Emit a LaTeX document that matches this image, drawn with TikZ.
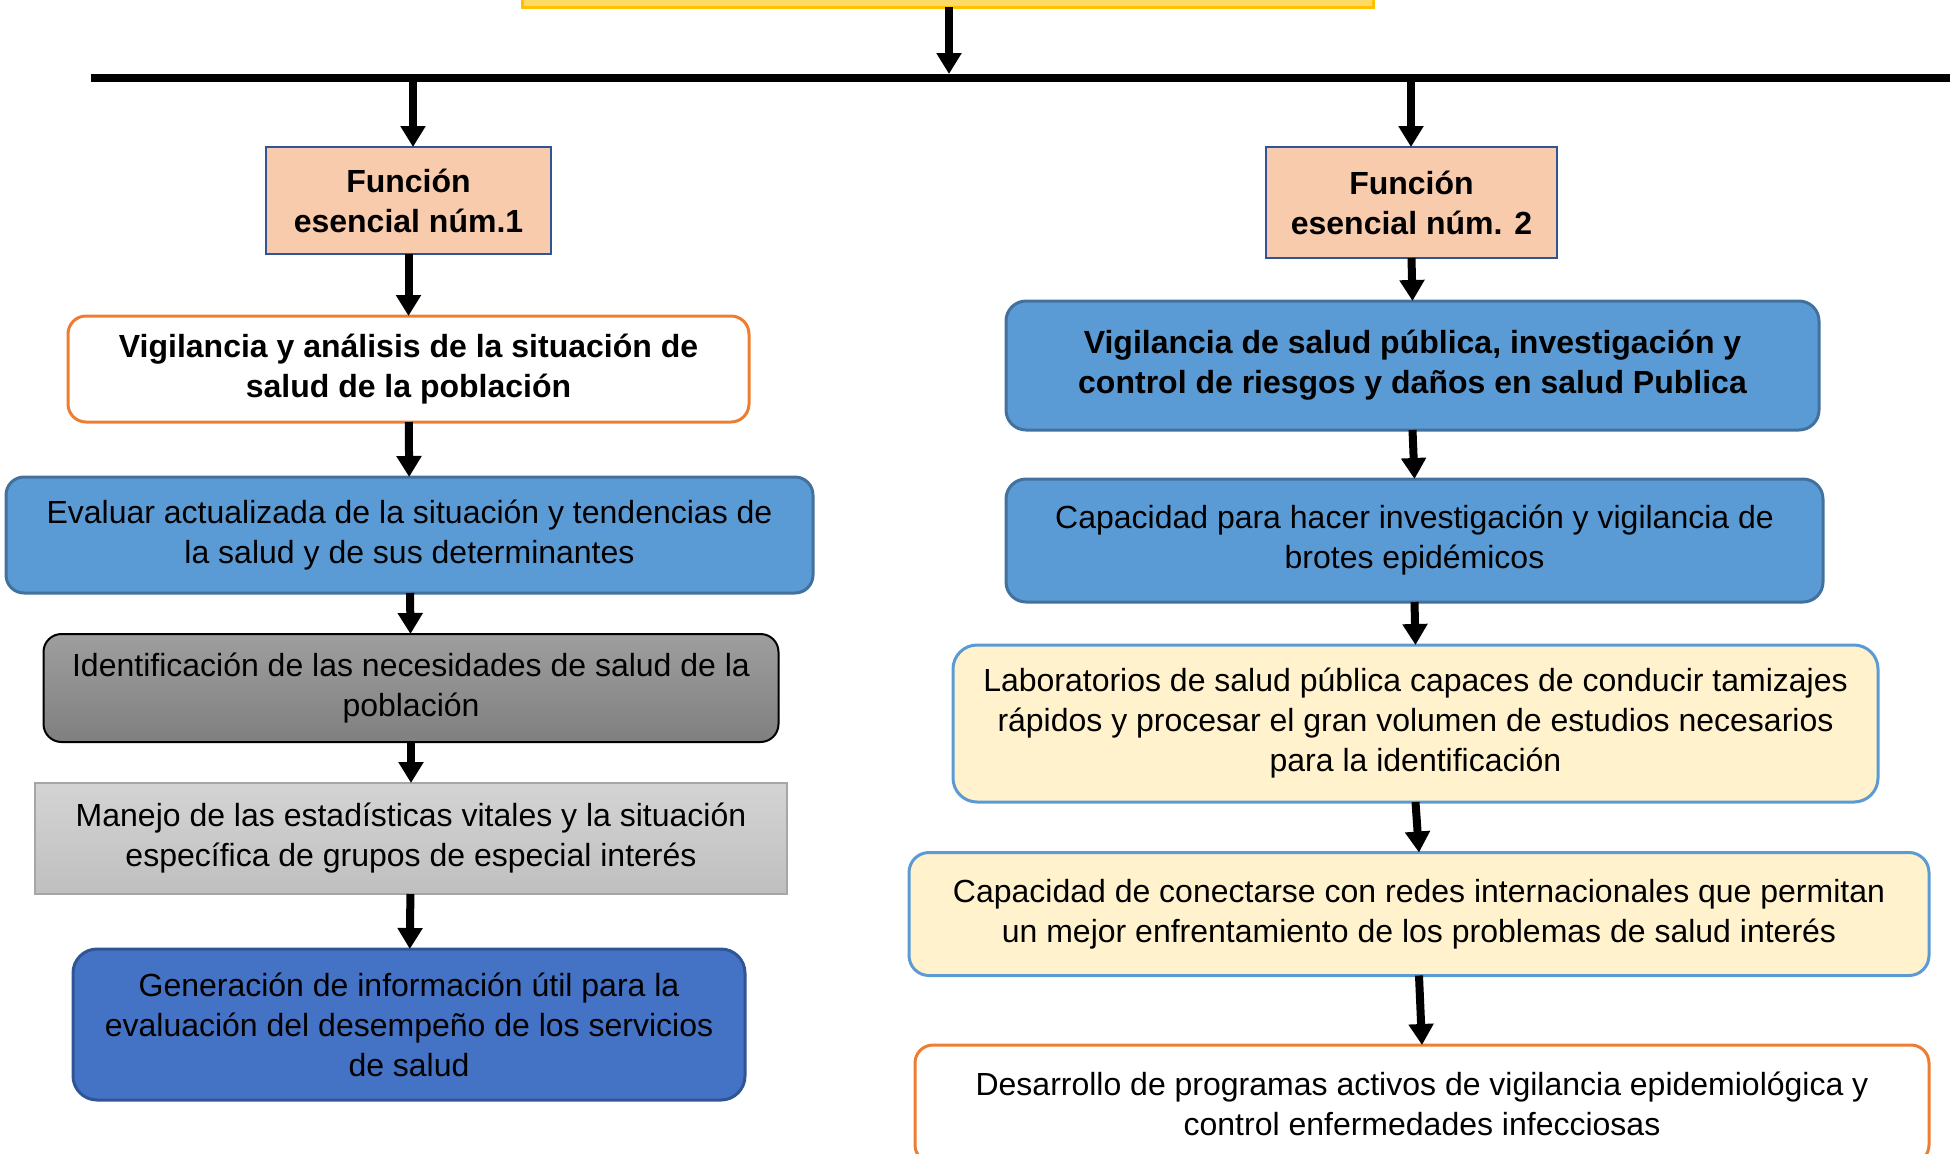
\documentclass[tikz,border=0pt]{standalone}
\usepackage{fontspec}
\setmainfont{Liberation Sans}
\usepackage{tikz}
\usetikzlibrary{arrows.meta}
\definecolor{peach}{HTML}{F8CBAD}
\definecolor{navy}{HTML}{2F5597}
\definecolor{skyblue}{HTML}{5B9BD5}
\definecolor{skyline}{HTML}{41719C}
\definecolor{royal}{HTML}{4472C4}
\definecolor{orangeline}{HTML}{ED7D31}
\definecolor{cream}{HTML}{FFF2CC}
\definecolor{gold}{HTML}{FFD966}
\definecolor{goldline}{HTML}{FFC000}
\tikzset{
boxnode/.style = {rectangle, rounded corners=#1, inner sep=2pt, outer sep=0pt, align=center,
  font=\fontsize{16}{20}\selectfont},
%boxnode/.style = {}
boxnode/.default = 9pt % corner radius of the box
}
\tikzset{bftext/.style={font=\fontsize{16}{20}\selectfont\bfseries}}
\tikzset{pc/.style={fill=peach, draw=navy, line width=1pt}}
\tikzset{wt/.style={fill=white, draw=orangeline, line width=1.5pt}}
\tikzset{bu/.style={fill=skyblue, draw=skyline, line width=1.5pt}}
\tikzset{dg/.style={top color=black!38, bottom color=black!50, draw=black, line width=1pt}}
\tikzset{lg/.style={top color=black!17, bottom color=black!25, draw=black!35, line width=1pt}}
\tikzset{nv/.style={fill=royal, draw=navy, line width=1.5pt}}
\tikzset{yl/.style={fill=cream, draw=skyblue, line width=1.5pt}}
\tikzset{arr/.style={-{Triangle[length=10.5pt,width=12pt]}, line width=4pt}}

\begin{document}
\begin{tikzpicture}[x=0.5pt, y=-0.5pt]
      \useasboundingbox (0,0) rectangle (1950,1153);
      % top box and bus
      \node [boxnode=0pt, fill=gold, draw=goldline, line width=1.5pt,
             minimum width=425.5pt, minimum height=50pt] (top) at (947.5,-43) {};
      \coordinate (bus0) at (91,78);
      \coordinate (bus1) at (1960,78);
      \coordinate (b0) at (949,78);
      \coordinate (b1) at (413,78);
      \coordinate (b2) at (1411,78);
      \draw [line width=4pt] (bus0) -- (bus1);
      % left column
      \node [boxnode=0pt, pc, bftext, minimum width=142.5pt, minimum height=53.5pt]
            (f1) at (408.5,200.5) {Función\\esencial núm.1};
      \node [boxnode, wt, bftext, minimum width=340.5pt, minimum height=53pt]
            (v1) at (408.5,369) {Vigilancia y análisis de la situación de\\salud de la población};
      \node [boxnode, bu, minimum width=403.5pt, minimum height=58pt]
            (e1) at (409.5,535) {Evaluar actualizada de la situación y tendencias de\\la salud y de sus determinantes};
      \node [boxnode, dg, minimum width=367.5pt, minimum height=54pt]
            (i1) at (411,688) {Identificación de las necesidades de salud de la\\población};
      \node [boxnode=0pt, lg, minimum width=376pt, minimum height=55.5pt]
            (m1) at (411,838.5) {Manejo de las estadísticas vitales y la situación\\específica de grupos de especial interés};
      \node [boxnode=12pt, nv, minimum width=336pt, minimum height=75.5pt]
            (g1) at (409,1024.5) {Generación de información útil para la\\evaluación del desempeño de los servicios\\de salud};
      % right column
      \node [boxnode=0pt, pc, bftext, minimum width=145.5pt, minimum height=55.5pt]
            (f2) at (1411.5,202.5) {Función\\esencial núm. 2};
      \node [boxnode=10pt, bu, bftext, minimum width=406.5pt, minimum height=64.5pt]
            (v2) at (1412.5,365.5) {Vigilancia de salud pública, investigación y\\control de riesgos y daños en salud Publica};
      \node [boxnode=10pt, bu, minimum width=408.5pt, minimum height=61.5pt]
            (c2) at (1414.5,540.5) {Capacidad para hacer investigación y vigilancia de\\brotes epidémicos};
      \node [boxnode=12pt, yl, minimum width=462.5pt, minimum height=78.5pt]
            (l2) at (1415.5,723.5) {Laboratorios de salud pública capaces de conducir tamizajes\\rápidos y procesar el gran volumen de estudios necesarios\\para la identificación};
      \node [boxnode=10pt, yl, minimum width=510pt, minimum height=61.5pt]
            (r2) at (1419,914) {Capacidad de conectarse con redes internacionales que permitan\\un mejor enfrentamiento de los problemas de salud interés};
      \node [boxnode, wt, minimum width=507pt, minimum height=59pt]
            (d2) at (1422,1104) {Desarrollo de programas activos de vigilancia epidemiológica y\\control enfermedades infecciosas};
      % arrows
      \draw [arr, shorten >=2pt] (top.south -| b0) -- (b0);
      \draw [arr] (b1) -- (b1 |- f1.north);
      \draw [arr] (b2) -- (b2 |- f2.north);
      \draw [arr] (f1) -- (v1);
      \draw [arr] (v1) -- (e1);
      \draw [arr] (e1) -- (i1);
      \draw [arr] (i1) -- (m1);
      \draw [arr] (m1) -- (g1);
      \draw [arr] (f2.south) -- (v2.north);
      \draw [arr] (v2.south) -- (c2.north);
      \draw [arr] (c2.south) -- (l2.north);
      \draw [arr] (l2.south) -- (r2.north);
      \draw [arr] (r2.south) -- (d2.north);
\end{tikzpicture}
\end{document}
